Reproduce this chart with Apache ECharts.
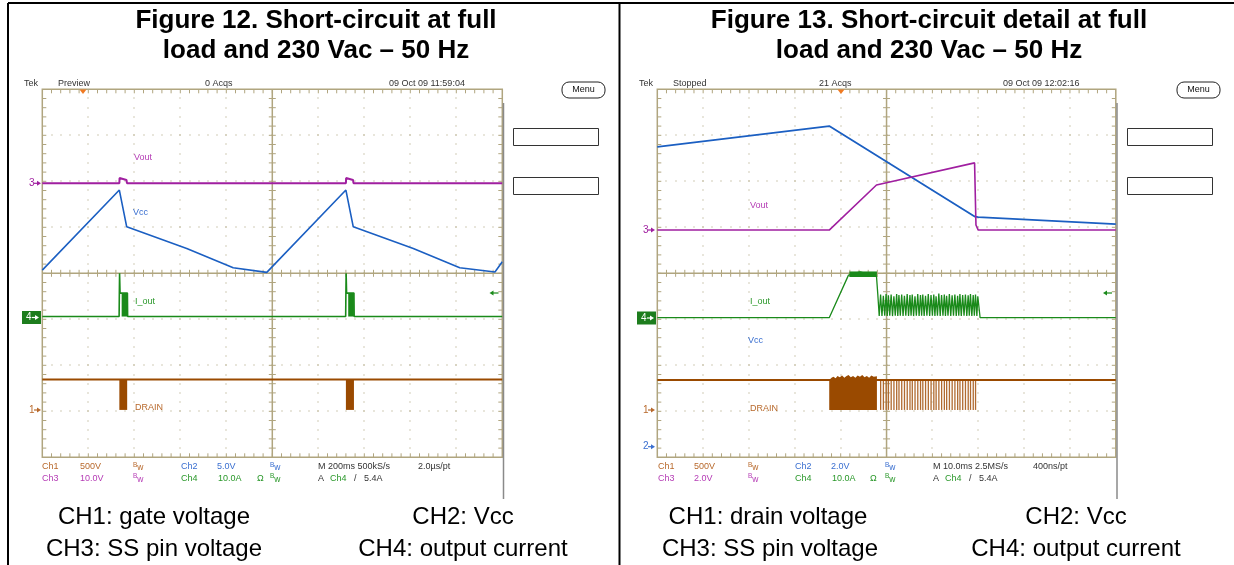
<!DOCTYPE html>
<html><head><meta charset="utf-8">
<script src="https://cdn.jsdelivr.net/npm/echarts@6/dist/echarts.min.js"></script>
<style>html,body{margin:0;padding:0;background:#fff}#c{width:1234px;height:565px}</style>
</head><body><div id="c"></div>
<script>
// ===== DATA (time in ms from the left edge of each screen, level in divisions from centre) =====
// Figure 12 : M 200 ms/div -> 0..2000 ms
const f12_vout = [[0,1.96],[335,1.96],[336,2.07],[338,2.03],[366,2.03],[368,1.96],[1320,1.96],[1321,2.07],[1323,2.03],[1351,2.03],[1353,1.96],[2000,1.96]];
const f12_vcc = [[0,0.07],[335,1.81],[367,1.01],[628,0.54],[830,0.12],[976,0.02],[982,0.03],[1320,1.81],[1352,1.01],[1613,0.54],[1815,0.12],[1968,0.03],[2000,0.25]];
const f12_iout = [[0,-0.94],[334,-0.94],[335,-0.43],[336,0.0],[338,-0.43],[345,-0.43],[370,-0.43],[371,-0.94],[1319,-0.94],[1320,-0.43],[1321,0.0],[1323,-0.43],[1330,-0.43],[1355,-0.43],[1356,-0.94],[2000,-0.94]];
const f12_ioutBurst = [[345,370,-0.94,-0.43],[1330,1355,-0.94,-0.43]];   // [t0, t1, low, high]
const f12_drain = [[0,-2.31],[2000,-2.31]];
const f12_drainBurst = [[335,369,-2.97,-2.31],[1320,1355,-2.97,-2.31]];

// Figure 13 : M 10 ms/div -> 0..100 ms
const f13_vcc = [[0,2.75],[37.5,3.20],[69.3,1.23],[70.0,1.22],[100,1.07]];
const f13_vout = [[0,0.94],[37.5,0.94],[47.8,1.92],[69.2,2.40],[69.5,1.05],[70.0,0.94],[100,0.94]];
const f13_iout = [[0,-0.965],[37.5,-0.965],[41.7,-0.04],[44.2,0.03],[46.5,-0.03],[47.8,-0.06],[48.1,-0.47],[48.4,-0.93],
 [48.7,-0.46],[49.0,-0.93],[49.3,-0.49],[49.6,-0.92],[49.9,-0.45],[50.15,-0.93],[50.4,-0.48],[50.7,-0.92],[51.0,-0.46],[51.3,-0.93],
 [51.6,-0.50],[51.9,-0.92],[52.2,-0.45],[52.45,-0.93],[52.7,-0.47],[53.0,-0.92],[53.3,-0.46],[53.6,-0.93],[53.9,-0.49],[54.2,-0.92],
 [54.5,-0.45],[54.8,-0.93],[55.1,-0.47],[55.35,-0.92],[55.6,-0.46],[55.9,-0.93],[56.2,-0.50],[56.5,-0.92],[56.8,-0.45],[57.1,-0.93],
 [57.4,-0.47],[57.65,-0.92],[57.9,-0.46],[58.2,-0.93],[58.5,-0.49],[58.8,-0.92],[59.1,-0.45],[59.4,-0.93],[59.7,-0.47],[60.0,-0.92],
 [60.3,-0.46],[60.55,-0.93],[60.8,-0.50],[61.1,-0.92],[61.4,-0.44],[61.7,-0.93],[62.0,-0.47],[62.3,-0.92],[62.6,-0.46],[62.85,-0.93],
 [63.1,-0.49],[63.4,-0.92],[63.7,-0.45],[64.0,-0.93],[64.3,-0.48],[64.6,-0.92],[64.9,-0.46],[65.2,-0.93],[65.5,-0.49],[65.75,-0.92],
 [66.0,-0.45],[66.3,-0.93],[66.6,-0.47],[66.9,-0.92],[67.2,-0.46],[67.5,-0.93],[67.8,-0.48],[68.05,-0.92],[68.3,-0.45],[68.6,-0.93],
 [68.9,-0.47],[69.15,-0.92],[69.4,-0.46],[69.7,-0.93],[69.9,-0.50],[70.4,-0.965],[100,-0.965]];
const f13_ioutBand = [[41.9,47.9,-0.08,0.04]];
const f13_drain = [[0,-2.32],[100,-2.32]];
const f13_drainHigh = -2.32, f13_drainLow = -2.97;
const f13_drainBurst = [[37.5,47.9,-2.97,-2.32]];
const f13_drainNoise = [[37.5,-2.32],[38.0,-2.27],[38.4,-2.25],[38.9,-2.28],[39.3,-2.23],[39.8,-2.26],[40.3,-2.22],[40.8,-2.27],[41.2,-2.24],[41.7,-2.21],[42.2,-2.26],[42.7,-2.23],[43.2,-2.27],[43.7,-2.22],[44.2,-2.25],[44.7,-2.21],[45.2,-2.26],[45.7,-2.23],[46.2,-2.27],[46.7,-2.22],[47.2,-2.25],[47.9,-2.24],[47.9,-2.32]];
const f13_drainPulseT = [48.7,49.3,49.9,50.4,51.0,51.6,52.2,52.7,53.3,53.9,54.5,55.1,55.6,56.2,56.8,57.4,57.9,58.5,59.1,59.7,60.3,60.8,61.4,62.0,62.6,63.1,63.7,64.3,64.9,65.5,66.0,66.6,67.2,67.8,68.3,68.9,69.4];

// ===== STYLE =====
const C1 = '#9a4a00', C2 = '#1b5fc2', C3 = '#a01fa0', C4 = '#1a8a1a';
const T1 = '#b8692c', T2 = '#3a6fd0', T3 = '#b53cb5', T4 = '#2a982a';
const GRAT = '#b0a57f', DOT = '#b3aa88';
const FF = '"Liberation Sans", Arial, sans-serif';

function gratRender(xMax) {
  return function (params, api) {
    const xd = xMax / 10;
    const ch = [];
    const P = (x, y) => api.coord([x, y]);
    const tl = P(0, 4), br = P(xMax, -4), c = P(xMax / 2, 0);
    const L = tl[0], T = tl[1], R = br[0], B = br[1];
    const seg = (x1, y1, x2, y2, w) => ch.push({type:'line', shape:{x1, y1, x2, y2}, style:{stroke:GRAT, lineWidth:w || 1}});
    const dot = (p) => ch.push({type:'rect', shape:{x:Math.round(p[0]) - 0.6, y:Math.round(p[1]) - 0.6, width:1.2, height:1.2}, style:{fill:DOT}});
    for (let i = 1; i < 10; i++) { if (i === 5) continue; for (let k = 1; k < 40; k++) dot(P(i * xd, -4 + k * 0.2)); }
    for (let j = -3; j <= 3; j++) { if (j === 0) continue; for (let k = 1; k < 50; k++) dot(P(k * xd / 5, j)); }
    for (let k = 1; k < 50; k++) { const x = P(k * xd / 5, 0)[0]; seg(x, T, x, T + 4); seg(x, B, x, B - 4); seg(x, c[1] - 3.5, x, c[1] + 3.5); }
    for (let k = 1; k < 40; k++) { const y = P(0, -4 + k * 0.2)[1]; seg(L, y, L + 4, y); seg(R, y, R - 4, y); seg(c[0] - 3.5, y, c[0] + 3.5, y); }
    seg(L, c[1], R, c[1], 1.5); seg(c[0], T, c[0], B, 1.5);
    ch.push({type:'rect', shape:{x:L, y:T, width:R - L, height:B - T}, style:{fill:'none', stroke:GRAT, lineWidth:1.5}});
    return {type:'group', children:ch};
  };
}
function envRender(color) {
  return function (params, api) {
    const a = api.coord([api.value(0), api.value(3)]);
    const b = api.coord([api.value(1), api.value(2)]);
    return {type:'rect', shape:{x:a[0], y:a[1], width:b[0] - a[0], height:b[1] - a[1]}, style:{fill:color}};
  };
}
function pulseRender(color) {
  return function (params, api) {
    const a = api.coord([api.value(0), api.value(1)]);
    const b = api.coord([api.value(0), api.value(2)]);
    return {type:'rect', shape:{x:a[0] - 0.6, y:a[1], width:1.3, height:b[1] - a[1]}, style:{fill:color}};
  };
}
function polyRender(points, color) {
  return function (params, api) {
    return {type:'polygon', shape:{points:points.map(p => api.coord(p))}, style:{fill:color}};
  };
}
function line(ix, data, color, w, z) {
  return {type:'line', xAxisIndex:ix, yAxisIndex:ix, data, showSymbol:false, symbol:'none', silent:true,
          lineStyle:{color, width:w}, z:z || 3};
}
function custom(ix, data, render, z) {
  return {type:'custom', xAxisIndex:ix, yAxisIndex:ix, data, renderItem:render, silent:true, z:z || 2};
}

// ===== GRAPHIC HELPERS (layout only) =====
const G = [];
function txt(x, y, s, color, size, align, weight) {
  G.push({type:'text', x, y, silent:true, z:10,
    style:{text:s, fill:color, fontSize:size, fontFamily:FF, fontWeight:weight || 'normal',
           align:align || 'left', textAlign:align || 'left', verticalAlign:'middle', textVerticalAlign:'middle'}});
}
function ln(x1, y1, x2, y2, color, w) {
  G.push({type:'line', silent:true, z:10, shape:{x1, y1, x2, y2}, style:{stroke:color, lineWidth:w}});
}
function poly(pts, color) { G.push({type:'polygon', silent:true, z:11, shape:{points:pts}, style:{fill:color}}); }
function rightArrow(x, y, color) { ln(x, y, x + 4, y, color, 1.2); poly([[x + 3, y - 2.5], [x + 7, y], [x + 3, y + 2.5]], color); }
function leftArrow(x, y, color) { ln(x + 3, y, x + 9, y, color, 1.2); poly([[x + 4, y - 2.5], [x, y], [x + 4, y + 2.5]], color); }
function bw(x, y, color) { txt(x, y - 2, 'B', color, 6.5); txt(x + 4.3, y + 1, 'w', color, 8.5); }

// frame
ln(8, 3, 1234, 3, '#000', 2);
ln(8, 3, 8, 565, '#000', 2);
ln(619.5, 3, 619.5, 565, '#000', 2);

// titles & captions
txt(316, 21, 'Figure 12. Short-circuit at full', '#000', 26, 'center', 'bold');
txt(316, 51, 'load and 230 Vac \u2013 50 Hz', '#000', 26, 'center', 'bold');
txt(929, 21, 'Figure 13. Short-circuit detail at full', '#000', 26, 'center', 'bold');
txt(929, 51, 'load and 230 Vac \u2013 50 Hz', '#000', 26, 'center', 'bold');
txt(154, 517, 'CH1: gate voltage', '#000', 24, 'center');
txt(154, 549, 'CH3: SS pin voltage', '#000', 24, 'center');
txt(463, 517, 'CH2: Vcc', '#000', 24, 'center');
txt(463, 549, 'CH4: output current', '#000', 24, 'center');
txt(768, 517, 'CH1: drain voltage', '#000', 24, 'center');
txt(770, 549, 'CH3: SS pin voltage', '#000', 24, 'center');
txt(1076, 517, 'CH2: Vcc', '#000', 24, 'center');
txt(1076, 549, 'CH4: output current', '#000', 24, 'center');

// scope decorations
function scope(o) {
  const H = '#333', ty = 83.5;
  txt(o.tek, ty, 'Tek', H, 9); txt(o.state[0], ty, o.state[1], H, 9);
  txt(o.acq[0], ty, o.acq[1], H, 9); txt(o.date[0], ty, o.date[1], H, 9);
  G.push({type:'rect', silent:true, z:10, shape:{x:o.menu, y:82, width:43, height:16, r:7}, style:{fill:'#fff', stroke:'#222', lineWidth:1}});
  txt(o.menu + 21.5, 90, 'Menu', '#111', 9, 'center');
  G.push({type:'rect', silent:true, z:10, shape:{x:o.box, y:128.5, width:85, height:17}, style:{fill:'#fff', stroke:'#333', lineWidth:1}});
  G.push({type:'rect', silent:true, z:10, shape:{x:o.box, y:177.5, width:85, height:17}, style:{fill:'#fff', stroke:'#333', lineWidth:1}});
  ln(o.edge, 103, o.edge, 499, '#8a8a8a', 1.5);
  poly([[o.trig - 3.5, 89.5], [o.trig + 3.5, 89.5], [o.trig, 94]], '#f07a22');
  leftArrow(o.edge - 14, 293, C4);
  o.marks.forEach(m => {
    if (m.box) {
      G.push({type:'rect', silent:true, z:10, shape:{x:m.x - 8, y:m.y - 6.5, width:19, height:13}, style:{fill:'#1d7d1d'}});
      txt(m.x - 4, m.y, m.n, '#fff', 10); rightArrow(m.x + 2, m.y, '#fff');
    } else { txt(m.x, m.y, m.n, m.c, 10); rightArrow(m.x + 5, m.y, m.c); }
  });
  o.labels.forEach(l => txt(l[0], l[1], l[2], l[3], 9));
  const r1 = 467, r2 = 478.5, X = o.info;
  txt(X[0], r1, 'Ch1', T1, 9); txt(X[1], r1, '500V', T1, 9); bw(X[2], r1, T1);
  txt(X[3], r1, 'Ch2', T2, 9); txt(X[4], r1, o.ch2, T2, 9); bw(X[5], r1, T2);
  txt(X[6], r1, o.hor, H, 9); txt(X[7], r1, o.pt, H, 9);
  txt(X[0], r2, 'Ch3', T3, 9); txt(X[1], r2, o.ch3, T3, 9); bw(X[2], r2, T3);
  txt(X[3], r2, 'Ch4', T4, 9); txt(X[4] + 1, r2, '10.0A', T4, 9); txt(X[8], r2, '\u03A9', T4, 9); bw(X[5], r2, T4);
  txt(X[6], r2, 'A', H, 9); txt(X[6] + 12, r2, 'Ch4', T4, 9); txt(X[6] + 36, r2, '/', H, 9); txt(X[6] + 46, r2, '5.4A', H, 9);
}
scope({tek:24, state:[58, 'Preview'], acq:[205, '0 Acqs'], date:[389, '09 Oct 09 11:59:04'], menu:562, box:513.5, edge:503.5, trig:83,
  marks:[{n:'3', x:29, y:183.3, c:C3}, {n:'4', x:30, y:317.5, box:true}, {n:'1', x:29, y:410, c:T1}],
  labels:[[134, 158, 'Vout', T3], [133, 213, 'Vcc', T2], [135, 302, 'I_out', T4], [135, 408, 'DRAIN', T1]],
  info:[42, 80, 133, 181, 217, 270, 318, 418, 257], ch2:'5.0V', ch3:'10.0V', hor:'M 200ms 500kS/s', pt:'2.0\u00B5s/pt'});
scope({tek:639, state:[673, 'Stopped'], acq:[819, '21 Acqs'], date:[1003, '09 Oct 09 12:02:16'], menu:1177, box:1127.5, edge:1117, trig:841,
  marks:[{n:'3', x:643, y:230, c:C3}, {n:'4', x:645, y:318, box:true}, {n:'1', x:643, y:410, c:T1}, {n:'2', x:643, y:446.7, c:T2}],
  labels:[[750, 206, 'Vout', T3], [750, 302, 'I_out', T4], [748, 341, 'Vcc', T2], [750, 409, 'DRAIN', T1]],
  info:[658, 694, 748, 795, 831, 885, 933, 1033, 870], ch2:'2.0V', ch3:'2.0V', hor:'M 10.0ms 2.5MS/s', pt:'400ns/pt'});

// ===== CHART =====
const chart = echarts.init(document.getElementById('c'), null, {renderer:'canvas'});
chart.setOption({
  animation:false,
  backgroundColor:'#fff',
  grid:[{left:42.3, top:89.3, width:460, height:368}, {left:657.3, top:89.3, width:458.5, height:368}],
  xAxis:[{gridIndex:0, type:'value', min:0, max:2000, show:false}, {gridIndex:1, type:'value', min:0, max:100, show:false}],
  yAxis:[{gridIndex:0, type:'value', min:-4, max:4, show:false}, {gridIndex:1, type:'value', min:-4, max:4, show:false}],
  series:[
    custom(0, [[0, 0]], gratRender(2000), 1),
    custom(1, [[0, 0]], gratRender(100), 1),
    line(0, f12_drain, C1, 2, 3),
    custom(0, f12_drainBurst, envRender(C1), 3),
    line(0, f12_iout, C4, 1.6, 4),
    custom(0, f12_ioutBurst, envRender(C4), 4),
    line(0, f12_vcc, C2, 1.6, 5),
    line(0, f12_vout, C3, 2, 6),
    line(1, f13_drain, C1, 2, 3),
    custom(1, f13_drainBurst, envRender(C1), 3),
    custom(1, [[0, 0]], polyRender(f13_drainNoise, C1), 3),
    custom(1, f13_drainPulseT.map(t => [t, f13_drainHigh, f13_drainLow]), pulseRender('#b06a30'), 3),
    line(1, f13_iout, C4, 1.3, 4),
    custom(1, f13_ioutBand, envRender(C4), 4),
    line(1, f13_vcc, C2, 1.8, 5),
    line(1, f13_vout, C3, 1.6, 6)
  ],
  graphic:{elements:G}
});
</script>
</body></html>
